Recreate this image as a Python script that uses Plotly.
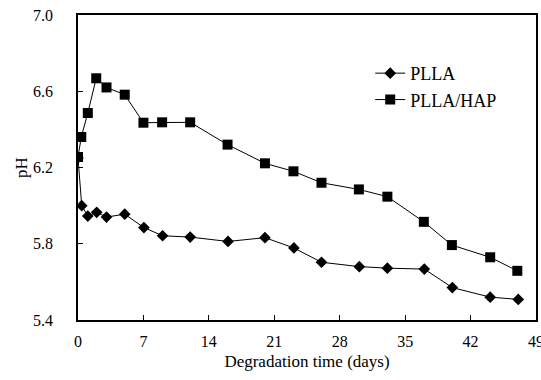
import plotly.graph_objects as go

days_plla = [0, 0.4, 1.05, 2.0, 3.05, 5.0, 7.05, 9.05, 12.0, 16.05, 20.0, 23.1, 26.05, 30.1, 33.1, 37.05, 40.05, 44.1, 47.1]
ph_plla = [6.25, 6.00, 5.945, 5.965, 5.94, 5.955, 5.885, 5.842, 5.835, 5.812, 5.832, 5.778, 5.703, 5.68, 5.672, 5.667, 5.57, 5.52, 5.508]

days_hap = [0, 0.35, 1.05, 1.95, 3.05, 5.0, 7.0, 9.0, 12.0, 16.0, 20.0, 23.05, 26.05, 30.05, 33.1, 37.0, 40.0, 44.1, 47.0]
ph_hap = [6.255, 6.36, 6.486, 6.668, 6.62, 6.582, 6.435, 6.437, 6.437, 6.32, 6.222, 6.18, 6.12, 6.085, 6.047, 5.915, 5.793, 5.729, 5.658]

x_ticks = [0, 7, 14, 21, 28, 35, 42, 49]
y_ticks = [5.4, 5.8, 6.2, 6.6, 7.0]

FONT = "Liberation Serif"

fig = go.Figure()
fig.add_trace(go.Scatter(
    x=days_plla, y=ph_plla, mode="lines+markers", name="PLLA",
    line=dict(color="black", width=1),
    marker=dict(symbol="diamond", size=9, color="black"),
))
fig.add_trace(go.Scatter(
    x=days_hap, y=ph_hap, mode="lines+markers", name="PLLA/HAP",
    line=dict(color="black", width=1),
    marker=dict(symbol="square", size=10, color="black"),
))

axis_common = dict(
    showline=True, linecolor="black", linewidth=1.5, mirror=True,
    ticks="inside", ticklen=5, tickwidth=1, tickcolor="black",
    showgrid=False, zeroline=False, automargin=False,
    tickfont=dict(family=FONT, size=16, color="black"),
    ticklabeloverflow="allow",
)

fig.update_layout(
    width=541, height=380,
    margin=dict(l=78, r=5, t=15, b=60),
    paper_bgcolor="white", plot_bgcolor="white",
    font=dict(family=FONT, size=16, color="black"),
    showlegend=True,
    legend=dict(
        x=0.638, y=0.869, xanchor="left", yanchor="top",
        bgcolor="rgba(0,0,0,0)", font=dict(family=FONT, size=18, color="black"),
        itemwidth=30, tracegroupgap=0,
    ),
    xaxis=dict(
        range=[0, 49], tickvals=x_ticks, ticktext=[str(v) for v in x_ticks],
        title=dict(text="Degradation time (days)", font=dict(family=FONT, size=17), standoff=6),
        ticklabelstandoff=6,
        **axis_common,
    ),
    yaxis=dict(
        range=[5.4, 7.0], tickvals=y_ticks, ticktext=[f"{v:.1f}" for v in y_ticks],
        title=dict(text="pH", font=dict(family=FONT, size=17), standoff=1),
        ticklabelstandoff=20,
        **axis_common,
    ),
)

fig.write_html(
    "out.html",
    config={"displayModeBar": False},
    post_script="document.body.style.margin='0';document.body.style.overflow='hidden';",
)
